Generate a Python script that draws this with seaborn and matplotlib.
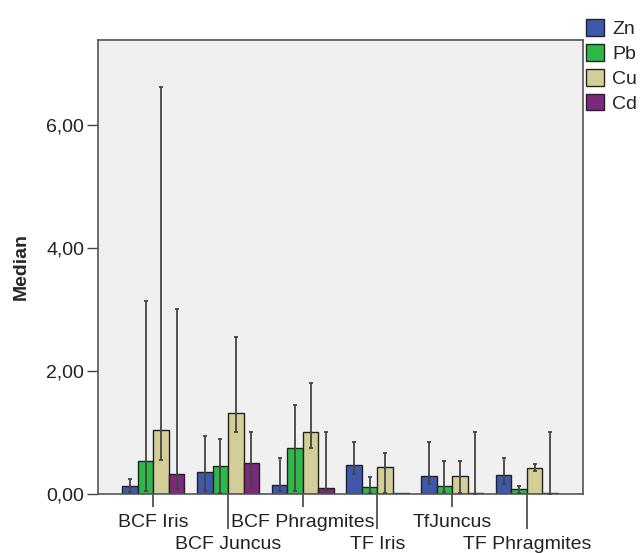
import matplotlib
matplotlib.use("Agg")
import matplotlib.pyplot as plt
import seaborn as sns
import pandas as pd
import numpy as np

categories = ["BCF Iris", "BCF Juncus", "BCF Phragmites", "TF Iris", "TfJuncus", "TF Phragmites"]
metals = ["Zn", "Pb", "Cu", "Cd"]

zn = [0.13, 0.36, 0.15, 0.47, 0.29, 0.31]
pb = [0.54, 0.46, 0.75, 0.11, 0.13, 0.08]
cu = [1.04, 1.31, 1.01, 0.44, 0.29, 0.43]
cd = [0.33, 0.51, 0.10, 0.01, 0.01, 0.01]

zn_lo = [0.04, 0.05, 0.05, 0.32, 0.16, 0.16]
zn_hi = [0.24, 0.95, 0.59, 0.85, 0.85, 0.58]
pb_lo = [0.05, 0.02, 0.05, 0.02, 0.03, 0.02]
pb_hi = [3.13, 0.89, 1.45, 0.28, 0.54, 0.13]
cu_lo = [0.55, 1.01, 0.74, 0.02, 0.02, 0.37]
cu_hi = [6.61, 2.55, 1.81, 0.67, 0.54, 0.48]
cd_lo = [0.08, 0.10, 0.05, 0.00, 0.00, 0.00]
cd_hi = [3.01, 1.01, 1.01, 0.00, 1.01, 1.01]

colors = ["#3E58AC", "#2EB848", "#D3CE97", "#7C287D"]
y_ticks = [0, 2, 4, 6]
y_tick_labels = ["0,00", "2,00", "4,00", "6,00"]

values = {"Zn": zn, "Pb": pb, "Cu": cu, "Cd": cd}
lows = {"Zn": zn_lo, "Pb": pb_lo, "Cu": cu_lo, "Cd": cd_lo}
highs = {"Zn": zn_hi, "Pb": pb_hi, "Cu": cu_hi, "Cd": cd_hi}

rows = []
for m in metals:
    for c, v in zip(categories, values[m]):
        rows.append({"cat": c, "metal": m, "Median": v})
df = pd.DataFrame(rows)

sns.set_style("white")
plt.rcParams["font.family"] = ["Liberation Sans", "DejaVu Sans"]
FS = 14

fig = plt.figure(figsize=(6.44, 5.53), dpi=100)
ax = fig.add_axes([98/644, 1-494/553, (583-98)/644, (494-40)/553])
ax.set_facecolor("#F0F0F0")

sns.barplot(data=df, x="cat", y="Median", hue="metal", order=categories,
            hue_order=metals, palette=colors, width=0.83, errorbar=None,
            edgecolor="#222222", linewidth=1.0, saturation=1, ax=ax, legend=True)

for cont, m in zip(ax.containers, metals):
    for bar, v, lo, hi in zip(cont.patches, values[m], lows[m], highs[m]):
        if hi <= lo:
            continue
        xc = bar.get_x() + bar.get_width() / 2
        ax.errorbar([xc], [v], yerr=[[v - lo], [hi - v]], fmt="none",
                    ecolor="#444444", elinewidth=1.3, capsize=1.6, capthick=1.3, zorder=5)

ax.set_xlim(-0.74, 5.75)
ax.set_ylim(0, 7.38)
ax.set_yticks(y_ticks)
ax.set_yticklabels(y_tick_labels, fontsize=FS, color="#222222")
ax.set_ylabel("Median", fontsize=FS, fontweight="bold", labelpad=12)
ax.set_xlabel("")
ax.set_xticks(range(len(categories)))
ax.set_xticklabels(categories, fontsize=FS, color="#222222")

ax.tick_params(axis="y", direction="out", length=8, width=1, color="#444444", left=True, pad=2)
ax.tick_params(axis="x", direction="out", length=3.5, width=1.2, color="#444444", bottom=True)
for i, t in enumerate(ax.xaxis.get_major_ticks()):
    if i % 2 == 0:
        t.set_pad(11)
        t.tick1line.set_markersize(9)
    else:
        t.set_pad(26.5)
        t.tick1line.set_markersize(25)

for s in ax.spines.values():
    s.set_color("#555555")
    s.set_linewidth(1.2)
    s.set_visible(True)

ax.get_legend().remove()
handles = [plt.Rectangle((0, 0), 1, 1, facecolor=c, edgecolor="#222222", linewidth=1.0) for c in colors]
fig.legend(handles, metals, loc="upper left", bbox_to_anchor=(586/644, 1-19/553),
           frameon=False, fontsize=FS, handlelength=0.95, handleheight=0.95,
           labelspacing=0.3, handletextpad=0.4, borderpad=0, borderaxespad=0)

fig.savefig("out.png", dpi=100)
